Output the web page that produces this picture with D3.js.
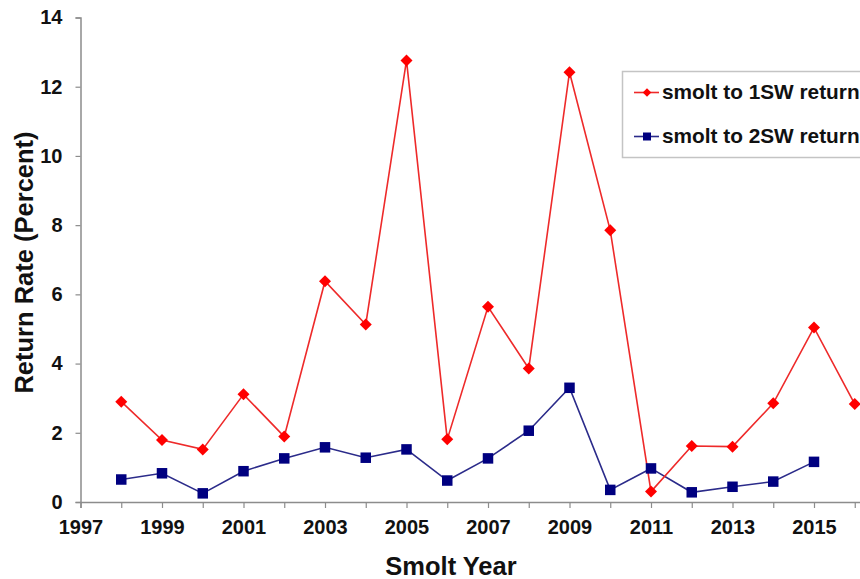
<!DOCTYPE html>
<html><head><meta charset="utf-8">
<script src="https://cdn.jsdelivr.net/npm/d3@7"></script>
<style>body{margin:0;background:#fff}svg{display:block}text{font-family:"Liberation Sans",Arial,sans-serif;font-weight:bold}</style>
</head><body><svg id="c" width="860" height="579"></svg>
<script>
const years1SW = [1998,1999,2000,2001,2002,2003,2004,2005,2006,2007,2008,2009,2010,2011,2012,2013,2014,2015,2016];
const values1SW = [2.90,1.79,1.52,3.11,1.89,6.38,5.13,12.76,1.81,5.64,3.86,12.42,7.85,0.30,1.62,1.60,2.85,5.04,2.83];
const years2SW = [1998,1999,2000,2001,2002,2003,2004,2005,2006,2007,2008,2009,2010,2011,2012,2013,2014,2015];
const values2SW = [0.65,0.83,0.25,0.89,1.26,1.58,1.28,1.52,0.62,1.26,2.06,3.30,0.35,0.97,0.28,0.44,0.59,1.16];
const xTicks = [1997,1999,2001,2003,2005,2007,2009,2011,2013,2015];
const yTicks = [0,2,4,6,8,10,12,14];
const seriesNames = ["smolt to 1SW return","smolt to 2SW return"];

const svg = d3.select("#c");
const x = d3.scaleLinear().domain([1997,2017]).range([80.5,895.5]);
const y = d3.scaleLinear().domain([0,14]).range([502,17.5]);
const axisColor = "#8c8c8c";

// y axis
const ya = svg.append("g").attr("transform","translate(80.5,0)")
  .call(d3.axisLeft(y).tickValues(yTicks).tickSize(5).tickPadding(13).tickFormat(d3.format("d")));
ya.select(".domain").attr("stroke",axisColor).attr("stroke-width",1.5);
ya.selectAll(".tick line").attr("stroke",axisColor).attr("stroke-width",1.2);
ya.selectAll(".tick text").attr("font-size",20).attr("fill","#111");

// x axis
const xa = svg.append("g").attr("transform","translate(0,502)")
  .call(d3.axisBottom(x).tickValues(d3.range(1997,2018)).tickSize(6).tickPadding(12)
    .tickFormat(d => xTicks.includes(d) ? String(d) : ""));
xa.select(".domain").attr("stroke",axisColor).attr("stroke-width",1.5);
xa.selectAll(".tick line").attr("stroke",axisColor).attr("stroke-width",1.2);
xa.selectAll(".tick text").attr("font-size",20).attr("fill","#111");

// titles
svg.append("text").attr("x",451).attr("y",575).attr("text-anchor","middle")
  .attr("font-size",25.5).attr("fill","#111").text("Smolt Year");
svg.append("text").attr("transform","translate(33,262.5) rotate(-90)").attr("text-anchor","middle")
  .attr("font-size",25.5).attr("fill","#111").text("Return Rate (Percent)");

const line = d3.line().x(d=>x(d[0])).y(d=>y(d[1]));
const d1 = years1SW.map((yr,i)=>[yr,values1SW[i]]);
const d2 = years2SW.map((yr,i)=>[yr,values2SW[i]]);

svg.append("path").datum(d2).attr("d",line).attr("fill","none").attr("stroke","#2b2b8a").attr("stroke-width",1.6);
svg.append("path").datum(d1).attr("d",line).attr("fill","none").attr("stroke","#ee2a2a").attr("stroke-width",1.6);

svg.selectAll(".m1").data(d1).join("path").attr("class","m1")
  .attr("d",d3.symbol().type(d3.symbolSquare).size(72))
  .attr("transform",d=>`translate(${x(d[0])},${y(d[1])}) rotate(45)`)
  .attr("fill","#ff0000");
svg.selectAll(".m2").data(d2).join("rect").attr("class","m2")
  .attr("x",d=>x(d[0])-5.25).attr("y",d=>y(d[1])-5.25).attr("width",10.5).attr("height",10.5)
  .attr("fill","#000080");

// legend
const lg = svg.append("g");
lg.append("rect").attr("x",622.5).attr("y",71.5).attr("width",260).attr("height",86)
  .attr("fill","#fff").attr("stroke","#c4c4c4").attr("stroke-width",1.5);
const lgY = [92.5,136.5];
seriesNames.forEach((name,i)=>{
  const col = i===0 ? "#ee2a2a" : "#2b2b8a";
  lg.append("line").attr("x1",634).attr("x2",659).attr("y1",lgY[i]).attr("y2",lgY[i]).attr("stroke",col).attr("stroke-width",1.6);
  if(i===0){
    lg.append("path").attr("d",d3.symbol().type(d3.symbolSquare).size(36)).attr("transform",`translate(647,${lgY[i]}) rotate(45)`).attr("fill","#ff0000");
  } else {
    lg.append("rect").attr("x",643).attr("y",lgY[i]-4).attr("width",8).attr("height",8).attr("fill","#000080");
  }
  lg.append("text").attr("x",662).attr("y",lgY[i]+6.5).attr("font-size",20.8).attr("fill","#111").text(name);
});
</script></body></html>
